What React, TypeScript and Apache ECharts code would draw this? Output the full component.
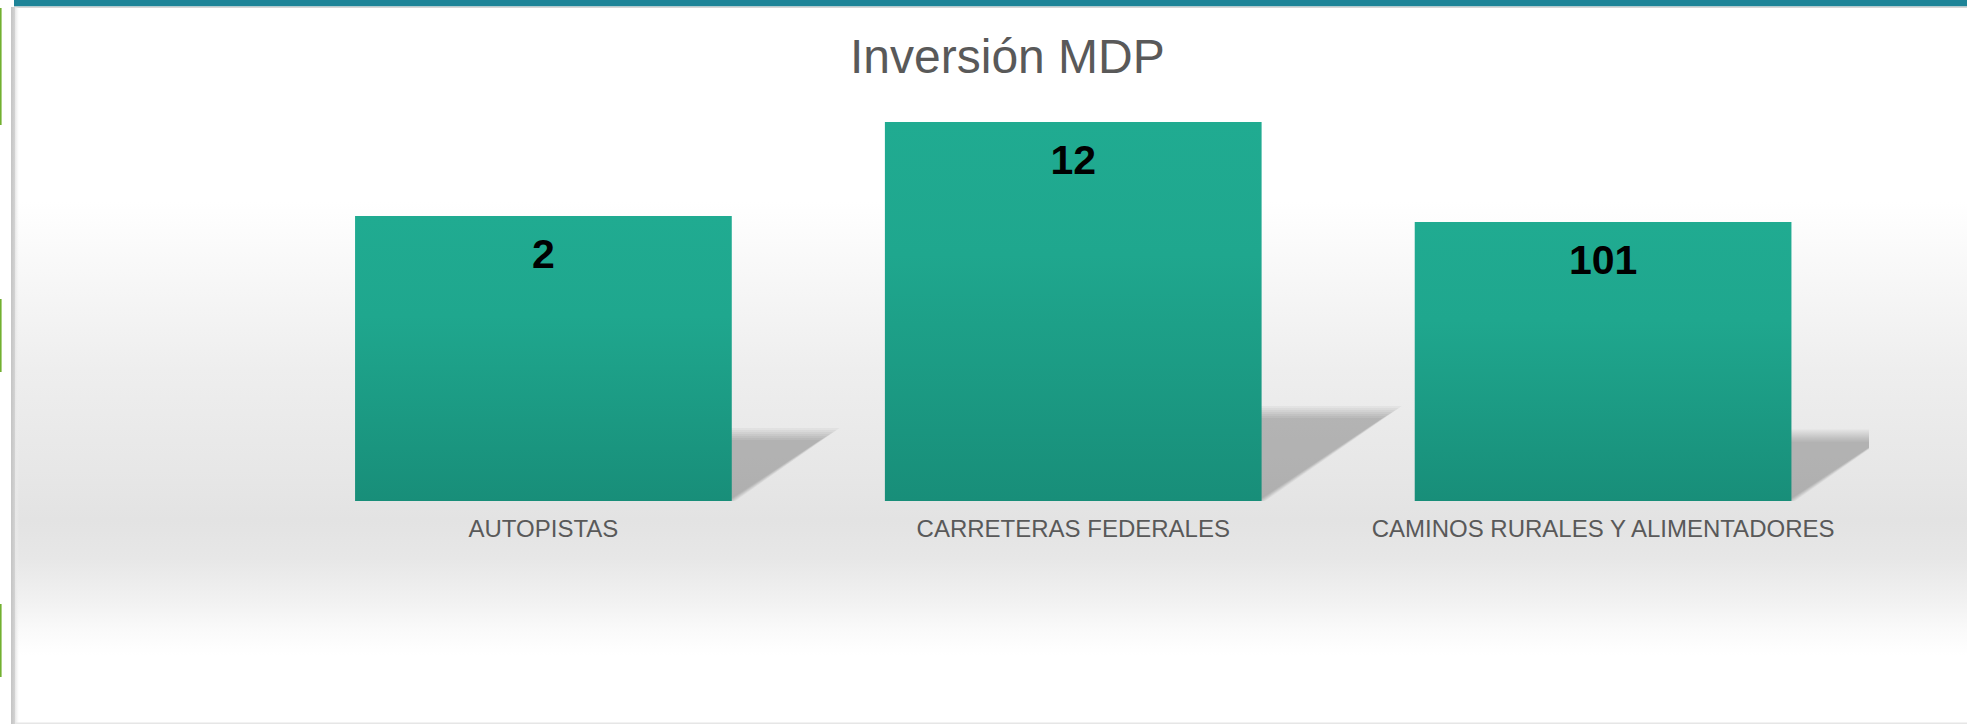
import React, { useEffect, useRef } from "react";
import * as echarts from "echarts";

// ---- Data ----
const categories: string[] = ["AUTOPISTAS", "CARRETERAS FEDERALES", "CAMINOS RURALES Y ALIMENTADORES"];
// Inversión (MDP) shown as data labels
const dataLabels: number[] = [2, 12, 101];
// Relative bar heights as drawn in the picture (percent of tallest bar)
const barHeights: number[] = [75.2, 100, 73.6];
const chartTitle = "Inversión MDP";

const BAR_RATIO = 0.711;

export default function App() {
  const ref = useRef<HTMLDivElement>(null);

  useEffect(() => {
    if (!ref.current) return;
    const chart = echarts.init(ref.current, undefined, { renderer: "svg" });
    const font = "'Liberation Sans', Arial, sans-serif";

    const option: any = {
      animation: false,
      title: {
        text: chartTitle,
        left: 850,
        top: 32,
        padding: 0,
        textStyle: { fontFamily: font, fontSize: 48, fontWeight: "normal", color: "#595959" },
      },
      grid: { left: 278.5, right: 99, top: 122, bottom: 223, containLabel: false },
      xAxis: {
        type: "category",
        data: categories,
        axisLine: { show: false },
        axisTick: { show: false },
        axisLabel: { fontFamily: font, fontSize: 24, color: "#595959", margin: 15, interval: 0 },
      },
      yAxis: { type: "value", min: 0, max: 100, show: false, splitLine: { show: false } },
      graphic: {
        elements: [
          {
            type: "rect",
            z: -20,
            silent: true,
            shape: { x: 15, y: 8, width: 1952, height: 716 },
            style: {
              fill: new echarts.graphic.LinearGradient(0, 0, 0, 1, [
                { offset: 0, color: "#ffffff" },
                { offset: 0.27, color: "#ffffff" },
                { offset: 0.38, color: "#f7f7f7" },
                { offset: 0.505, color: "#eeeeee" },
                { offset: 0.645, color: "#e7e7e7" },
                { offset: 0.715, color: "#e3e3e3" },
                { offset: 0.77, color: "#e7e7e7" },
                { offset: 0.827, color: "#f1f1f1" },
                { offset: 0.87, color: "#fafafa" },
                { offset: 0.904, color: "#ffffff" },
                { offset: 1, color: "#ffffff" },
              ]),
            },
          },
          { type: "rect", z: -15, silent: true, shape: { x: 14, y: 0, width: 1953, height: 6.5 }, style: { fill: "#1e8498" } },
          { type: "rect", z: -15, silent: true, shape: { x: 14, y: 6.5, width: 1953, height: 1.5 }, style: { fill: "#d6d6d6" } },
          {
            type: "rect",
            z: -15,
            silent: true,
            shape: { x: 11, y: 7, width: 8, height: 717 },
            style: {
              fill: new echarts.graphic.LinearGradient(0, 0, 1, 0, [
                { offset: 0, color: "#c4c4c4" },
                { offset: 0.45, color: "#d2d2d2" },
                { offset: 0.5, color: "#e6e6e6" },
                { offset: 1, color: "rgba(240,240,240,0)" },
              ]),
            },
          },
          { type: "rect", z: -15, silent: true, shape: { x: 15, y: 722.5, width: 1952, height: 1.5 }, style: { fill: "#e6e6e6" } },
          { type: "rect", z: -15, silent: true, shape: { x: 0, y: 8, width: 1.6, height: 117 }, style: { fill: "#72b030" } },
          { type: "rect", z: -15, silent: true, shape: { x: 0, y: 299, width: 1.6, height: 73 }, style: { fill: "#72b030" } },
          { type: "rect", z: -15, silent: true, shape: { x: 0, y: 604, width: 1.6, height: 73 }, style: { fill: "#72b030" } },
        ],
      },
      series: [
        {
          type: "custom",
          z: 1,
          clip: true,
          silent: true,
          data: barHeights.map((h, i) => [i, h]),
          encode: { x: 0, y: 1 },
          renderItem: (params: any, api: any) => {
            const idx = api.value(0);
            const v = api.value(1);
            const top = api.coord([idx, v]);
            const base = api.coord([idx, 0]);
            const band = api.size([1, 0])[0];
            const w = band * BAR_RATIO;
            const xL = base[0] - w / 2;
            const xR = base[0] + w / 2;
            const h = base[1] - top[1];
            const rise = h * 0.235;
            const ext = h * 0.345;
            const y0 = base[1];
            const layers = [-6, -4, -2, 0, 2, 4, 6];
            const children = layers.map((k) => ({
              type: "polygon",
              shape: {
                points: [
                  [xL, y0],
                  [xR + k * 0.6, y0],
                  [xR + ext + k * 1.6, y0 - rise - k],
                  [xL + ext, y0 - rise - k],
                ],
              },
              style: { fill: "rgba(0,0,0,0.034)" },
            }));
            return { type: "group", children };
          },
        },
        {
          type: "bar",
          z: 3,
          data: barHeights,
          barWidth: (BAR_RATIO * 100).toFixed(1) + "%",
          itemStyle: {
            color: new echarts.graphic.LinearGradient(0, 0, 0, 1, [
              { offset: 0, color: "#20ab91" },
              { offset: 0.35, color: "#1fa78e" },
              { offset: 1, color: "#188e79" },
            ]),
          },
          label: {
            show: true,
            position: "insideTop",
            distance: 17.5,
            formatter: (p: any) => String(dataLabels[p.dataIndex]),
            fontFamily: font,
            fontSize: 41,
            fontWeight: "bold",
            color: "#000000",
          },
        },
      ],
    };

    chart.setOption(option);
    return () => chart.dispose();
  }, []);

  return (
    <div
      ref={ref}
      style={{ position: "fixed", left: 0, top: 0, width: 1967, height: 724, background: "#ffffff" }}
    />
  );
}
